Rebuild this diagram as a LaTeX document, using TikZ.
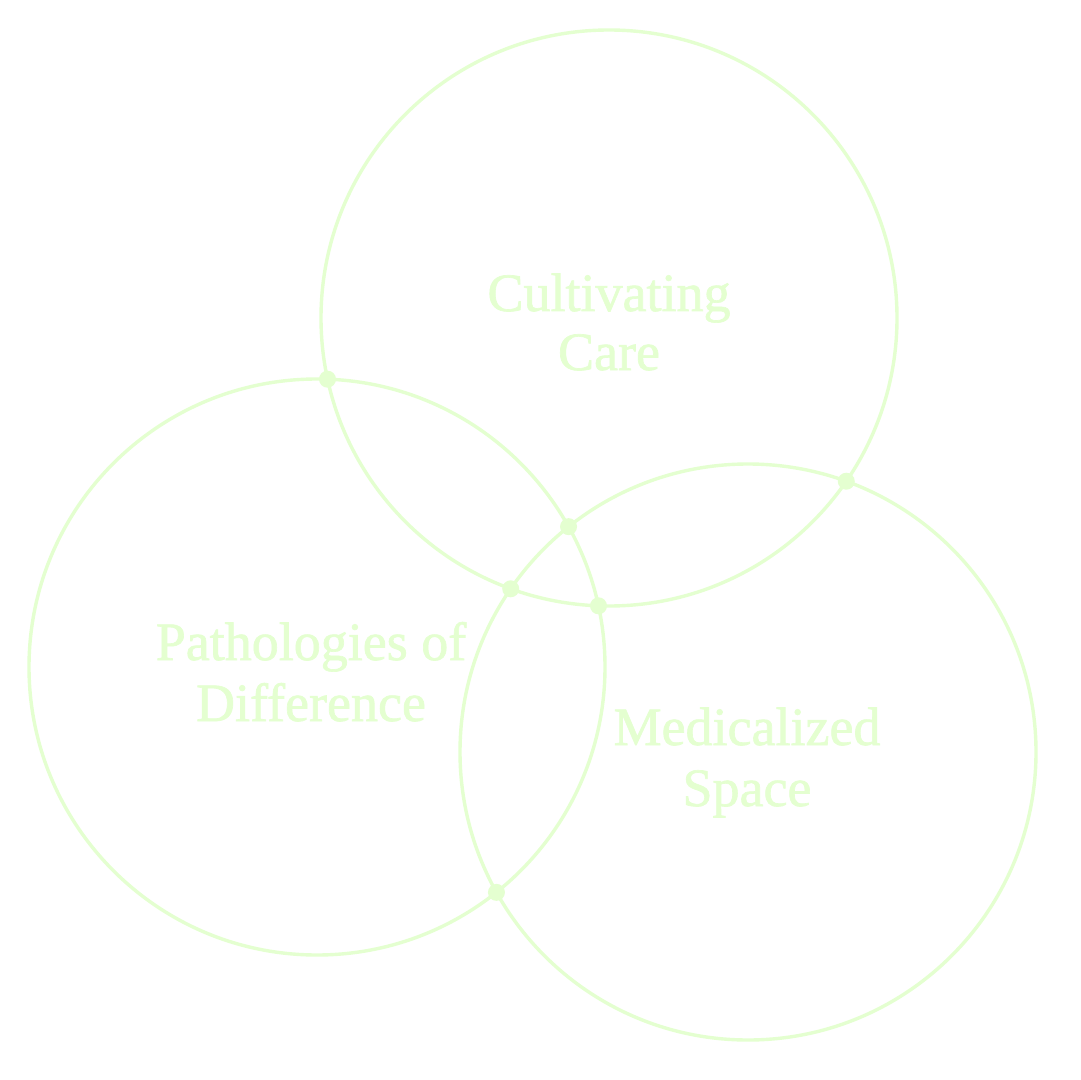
\documentclass[tikz,border=0pt]{standalone}
\usepackage{fontspec}
\setmainfont{Liberation Serif}[FakeBold=1.2]
\usetikzlibrary{intersections}
\definecolor{pale}{HTML}{E4FFD0}
\begin{document}
\begin{tikzpicture}[x=0.5pt,y=-0.5pt,
  ring/.style={draw=pale,line width=1.7pt},
  dot/.style={circle,fill=pale,inner sep=0pt,minimum size=8.5pt},
  lab/.style={text=pale,font=\fontsize{27}{30}\selectfont,anchor=base,inner sep=0pt}]
\useasboundingbox[fill=white] (0,0) rectangle (1080,1080);
\path[ring,name path=T] (609,318) circle[radius=288];
\path[ring,name path=L] (317,667) circle[radius=288];
\path[ring,name path=R] (748,752) circle[radius=288];
\path[name intersections={of=T and L,name=tl}];
\path[name intersections={of=T and R,name=tr}];
\path[name intersections={of=L and R,name=lr}];
\node[dot] (x1) at (tl-1) {};
\node[dot] (x2) at (tl-2) {};
\node[dot] (x3) at (tr-1) {};
\node[dot] (x4) at (tr-2) {};
\node[dot] (x5) at (lr-1) {};
\node[dot] (x6) at (lr-2) {};
\node[lab] (c1) at (609,311) {Cultivating};
\node[lab] (c2) at (609,370) {Care};
\node[lab] (p1) at (311,660) {Pathologies of};
\node[lab] (p2) at (311,721) {Difference};
\node[lab] (m1) at (747,745) {Medicalized};
\node[lab] (m2) at (747,806) {Space};
\end{tikzpicture}
\end{document}
